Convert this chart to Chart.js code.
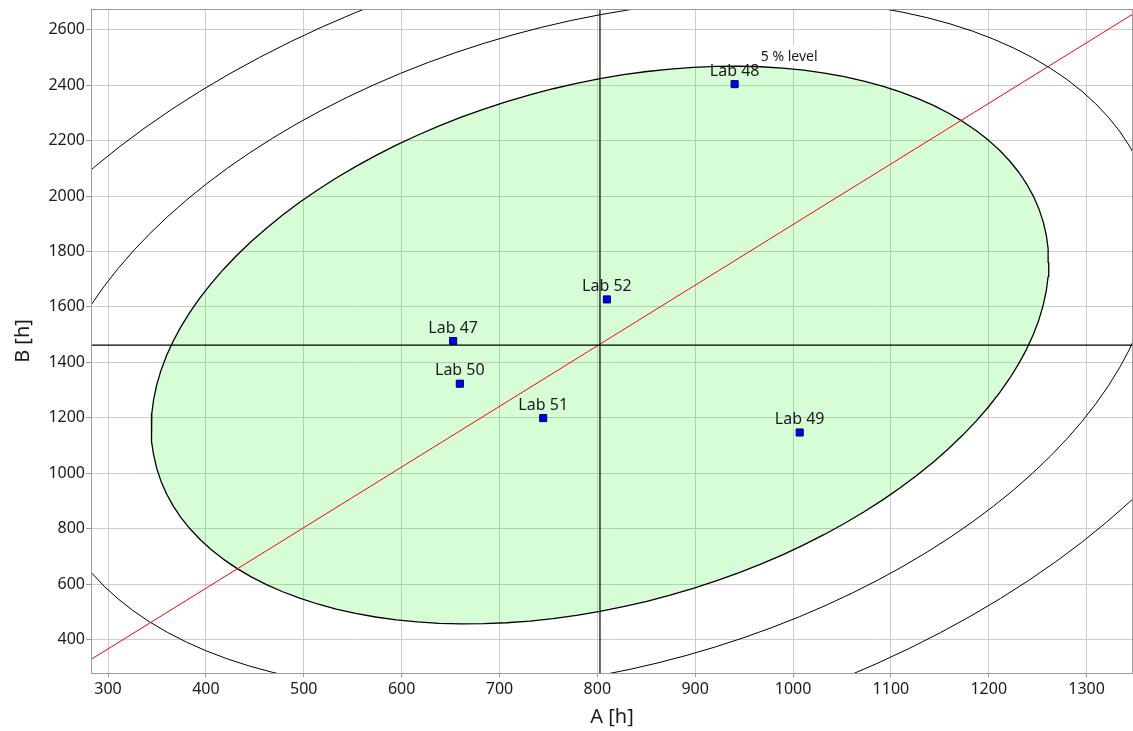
<!DOCTYPE html>
<html>
<head>
<meta charset="utf-8">
<script src="https://cdn.jsdelivr.net/npm/chart.js@4.4.1/dist/chart.umd.min.js"></script>
<style>
html, body { margin: 0; padding: 0; background: #fff; }
</style>
</head>
<body>
<canvas id="chart" width="1133" height="731"></canvas>
<script>
// lab results (A and B in hours)
const labNames = ['Lab 47', 'Lab 48', 'Lab 49', 'Lab 50', 'Lab 51', 'Lab 52'];
const valuesA = [652.7, 940.3, 1006.8, 659.5, 744.7, 809.8];
const valuesB = [1476.8, 2403.6, 1147, 1323, 1199, 1627];

// centre (crosshair)
const centerA = 802.7;
const centerB = 1462.5;

// 5 % ellipse: half extents along A and B, and correlation
const ellipseHalfA = 458.6;
const ellipseHalfB = 1006;
const ellipseCorr = 0.296;
// 5 %, 1 %, 0.1 % levels relative to the 5 % ellipse
const levelScale = [1, 1.24, 1.518];

// red line end points
const lineA = [282, 1348];
const lineB = [327, 2658];

// axes
const rangeA = [282.6, 1347.4];
const rangeB = [279.4, 2674.7];
const ticksA = [300, 400, 500, 600, 700, 800, 900, 1000, 1100, 1200, 1300];
const ticksB = [400, 600, 800, 1000, 1200, 1400, 1600, 1800, 2000, 2200, 2400, 2600];

const levelLabel = '5 % level';
const levelLabelA = 996;
const levelLabelB = 2503;

const FONT = '"Noto Sans", "Open Sans", sans-serif';
const TEXT = '#1a1a1a';

function ellipsePoints(scale) {
    let pts = [];
    const n = 120;
    const q = Math.sqrt(1 - ellipseCorr * ellipseCorr);
    for (let i = 0; i <= n; i++) {
        const t = 2 * Math.PI * i / n;
        pts.push({
            x: centerA + scale * ellipseHalfA * Math.cos(t),
            y: centerB + scale * ellipseHalfB * (ellipseCorr * Math.cos(t) + q * Math.sin(t))
        });
    }
    return pts;
}

const boxPlugin = {
    id: 'box',
    afterDatasetsDraw(chart) {
        const { ctx, chartArea: a } = chart;
        ctx.save();
        ctx.strokeStyle = '#9a9a9a';
        ctx.lineWidth = 1;
        ctx.strokeRect(Math.round(a.left) + 0.5, Math.round(a.top) + 0.5,
            Math.round(a.right - a.left) - 1, Math.round(a.bottom - a.top));
        ctx.restore();
    }
};

const labelPlugin = {
    id: 'labLabels',
    afterDraw(chart) {
        const { ctx, scales: { x, y } } = chart;
        ctx.save();
        ctx.fillStyle = TEXT;
        ctx.textAlign = 'center';
        ctx.textBaseline = 'middle';
        ctx.font = '16px ' + FONT;
        labNames.forEach((name, i) => {
            ctx.fillText(name, x.getPixelForValue(valuesA[i]), y.getPixelForValue(valuesB[i]) - 13);
        });

        // level label on a white box
        ctx.font = '14px ' + FONT;
        const lx = x.getPixelForValue(levelLabelA);
        const ly = y.getPixelForValue(levelLabelB);
        const w = ctx.measureText(levelLabel).width;
        ctx.fillStyle = '#fff';
        ctx.fillRect(lx - w / 2 - 2, ly - 11, w + 4, 20);
        ctx.fillStyle = TEXT;
        ctx.fillText(levelLabel, lx, ly);
        ctx.restore();
    }
};

const labData = valuesA.map((a, i) => ({ x: a, y: valuesB[i] }));

const lineStyle = {
    showLine: true, pointRadius: 0, pointHoverRadius: 0, tension: 0, fill: false,
    borderJoinStyle: 'round', borderCapStyle: 'round'
};

new Chart(document.getElementById('chart'), {
    type: 'scatter',
    data: {
        datasets: [
            {
                label: 'Labs',
                data: labData,
                pointStyle: 'rect',
                pointRadius: 5,
                backgroundColor: '#0000ff',
                borderColor: '#00004a',
                borderWidth: 1,
                order: 0
            },
            {
                ...lineStyle,
                data: [{ x: centerA, y: rangeB[0] }, { x: centerA, y: rangeB[1] }],
                borderColor: '#000',
                borderWidth: 1.2,
                order: 1
            },
            {
                ...lineStyle,
                data: [{ x: rangeA[0], y: centerB }, { x: rangeA[1], y: centerB }],
                borderColor: '#000',
                borderWidth: 1.2,
                order: 1
            },
            {
                ...lineStyle,
                data: [{ x: lineA[0], y: lineB[0] }, { x: lineA[1], y: lineB[1] }],
                borderColor: '#ff0000',
                borderWidth: 1,
                order: 2
            },
            {
                ...lineStyle,
                data: ellipsePoints(levelScale[0]),
                fill: 'shape',
                backgroundColor: 'rgba(0, 240, 0, 0.16)',
                borderColor: '#000',
                borderWidth: 1.3,
                order: 5
            },
            {
                ...lineStyle,
                data: ellipsePoints(levelScale[1]),
                borderColor: '#000',
                borderWidth: 1,
                order: 3
            },
            {
                ...lineStyle,
                data: ellipsePoints(levelScale[2]),
                borderColor: '#000',
                borderWidth: 1,
                order: 3
            }
        ]
    },
    options: {
        responsive: false,
        animation: false,
        layout: { autoPadding: false, padding: { top: 9, right: 0, left: 0, bottom: 0 } },
        plugins: {
            legend: { display: false },
            tooltip: { enabled: false }
        },
        scales: {
            x: {
                type: 'linear',
                min: rangeA[0],
                max: rangeA[1],
                afterBuildTicks: (s) => { s.ticks = ticksA.map(v => ({ value: v })); },
                afterFit: (s) => { s.height = 58; s.paddingLeft = 0; s.paddingRight = 0; },
                ticks: {
                    maxRotation: 0,
                    padding: 3,
                    color: TEXT,
                    font: { family: FONT, size: 16 },
                    callback: (v) => String(v)
                },
                grid: { color: '#cdcdcd', tickLength: 4, tickColor: '#9a9a9a' },
                border: { color: '#9a9a9a' },
                title: {
                    display: true,
                    text: 'A [h]',
                    color: TEXT,
                    font: { family: FONT, size: 20 },
                    padding: { top: 0, bottom: 2 }
                }
            },
            y: {
                type: 'linear',
                min: rangeB[0],
                max: rangeB[1],
                afterBuildTicks: (s) => { s.ticks = ticksB.map(v => ({ value: v })); },
                afterFit: (s) => { s.width = 91; s.paddingTop = 0; s.paddingBottom = 0; },
                ticks: {
                    padding: 1,
                    color: TEXT,
                    font: { family: FONT, size: 16 },
                    callback: (v) => String(v)
                },
                grid: { color: '#cdcdcd', tickLength: 5, tickColor: '#9a9a9a' },
                border: { color: '#9a9a9a' },
                title: {
                    display: true,
                    text: 'B [h]',
                    color: TEXT,
                    font: { family: FONT, size: 20 },
                    padding: { top: 11, bottom: 0 }
                }
            }
        }
    },
    plugins: [boxPlugin, labelPlugin]
});
</script>
</body>
</html>
